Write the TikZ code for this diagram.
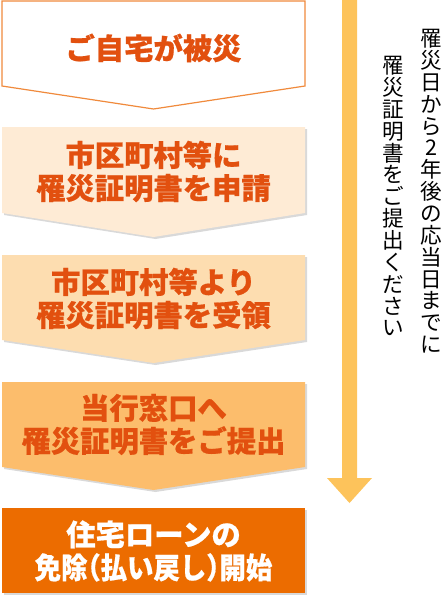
\documentclass[tikz,border=0pt]{standalone}
\usepackage{fontspec}
\newfontfamily\jp{Noto Sans CJK JP}
\newfontfamily\jpb[BoldFeatures={FakeBold=0.6}]{Noto Sans CJK JP}
\definecolor{bordor}{HTML}{F08A3C}
\definecolor{fillA}{HTML}{FEEBD5}
\definecolor{fillB}{HTML}{FDDDB0}
\definecolor{fillC}{HTML}{FCBD6C}
\definecolor{fillD}{HTML}{EC6C00}
\definecolor{txtor}{HTML}{E2500F}
\definecolor{arrowor}{HTML}{FDC35B}
\newcommand{\tightls}{\lineskiplimit=-100pt\relax\lineskip=0pt\relax}
\tikzset{
  boxtext/.style={font=\jpb\bfseries\fontsize{22}{24.75}\selectfont, text=txtor, align=center, inner sep=0pt},
  sidetext/.style={font=\jp\fontsize{16.2}{16.4}\selectfont\tightls, text=black, align=center, inner sep=0pt, anchor=north},
}
\newcommand{\pent}[4]{% top, rectbottom, point, fill
  \fill[black!15] (4,#1+2) -- (307,#1+2) -- (307,#2+2) -- (155.5,#3+2) -- (4,#2+2) -- cycle;
  \fill[#4] (2,#1) -- (305,#1) -- (305,#2) -- (153.5,#3) -- (2,#2) -- cycle;
}
\newcommand{\hp}[1]{{\addfontfeature{RawFeature=+halt}#1}}
\begin{document}
\begin{tikzpicture}[x=0.75pt,y=-0.75pt]
\useasboundingbox (0,0) rectangle (448,600);
% box 1
\filldraw[fill=white,draw=bordor,line width=0.9pt] (2,1) -- (305,1) -- (305,86) -- (153.5,109) -- (2,86) -- cycle;
\node[boxtext] (t1) at (153.5,48) {ご自宅が被災};
% box 2
\pent{127}{213}{237}{fillA}
\node[boxtext] (t2) at (153.5,171.5) {市区町村等に\\罹災証明書を申請};
% box 3
\pent{255}{340}{363}{fillB}
\node[boxtext] (t3) at (153.5,298.5) {市区町村等より\\罹災証明書を受領};
% box 4
\pent{382}{467}{490}{fillC}
\node[boxtext] (t4) at (153.5,424.5) {当行窓口へ\\罹災証明書をご提出};
% box 5
\fill[black!15] (4,510) rectangle (307,595);
\fill[fillD] (2,508) rectangle (305,593);
\node[boxtext,text=white] (t5) at (153.5,551) {住宅ローンの\\\scalebox{0.9}[1]{免除\hp{（}払い戻し\hp{）}開始}};
% big arrow
\fill[arrowor] (342,0) -- (357,0) -- (357,478) -- (372,478) -- (349.5,503) -- (327,478) -- (342,478) -- cycle;
% side texts
\node[sidetext] (s1) at (431.5,29) {罹\\災\\日\\か\\ら\\2\\年\\後\\の\\応\\当\\日\\ま\\で\\に};
\node[sidetext] (s2) at (393.5,56) {罹\\災\\証\\明\\書\\を\\ご\\提\\出\\く\\だ\\さ\\い};
\end{tikzpicture}
\end{document}
